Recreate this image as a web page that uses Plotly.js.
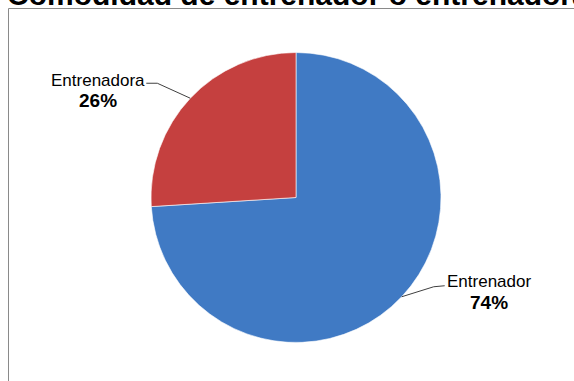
<!DOCTYPE html>
<html>
<head>
<meta charset="utf-8">
<script src="https://cdn.plot.ly/plotly-3.0.1.min.js"></script>
<style>html,body{margin:0;padding:0;background:#fff;}#chart{width:574px;height:381px;}</style>
</head>
<body>
<div id="chart"></div>
<script>
const titleText = "Comodidad de entrenador o entrenadora";
const categories = ["Entrenador", "Entrenadora"];
const values = [74, 26];
const colors = ["#407ac4", "#c5403f"];

const W = 574, H = 381;
// pie geometry (pixels)
const cx = 296, cy = 197.5, R = 145;
const px = x => x / W;
const py = y => 1 - y / H;

const total = values.reduce((a, b) => a + b, 0);
// label layout: offsets from slice mid-point on rim
const labelStyle = [
  {elbow: [32, -10], end: [43, -11], name: [87, -15], pct: [87, 6]},
  {elbow: [-33, -15], end: [-44, -15], name: [-92, -18], pct: [-92, 2]}
];

const annotations = [];
const shapes = [];
let start = 0;
values.forEach((v, i) => {
  const mid = (start + v / 2) / total * 2 * Math.PI; // clockwise from 12 o'clock
  start += v;
  const ex = cx + R * Math.sin(mid), ey = cy - R * Math.cos(mid);
  const s = labelStyle[i];
  shapes.push({
    type: "path", xref: "paper", yref: "paper",
    path: `M ${px(ex)} ${py(ey)} L ${px(ex + s.elbow[0])} ${py(ey + s.elbow[1])} L ${px(ex + s.end[0])} ${py(ey + s.end[1])}`,
    line: {color: "#404040", width: 1}
  });
  annotations.push({
    xref: "paper", yref: "paper", x: px(ex + s.name[0]), y: py(ey + s.name[1]),
    xanchor: "center", yanchor: "middle", showarrow: false,
    text: categories[i], font: {family: "Liberation Sans, Arial, sans-serif", size: 17, color: "#000"}
  });
  annotations.push({
    xref: "paper", yref: "paper", x: px(ex + s.pct[0]), y: py(ey + s.pct[1]),
    xanchor: "center", yanchor: "middle", showarrow: false,
    text: "<b>" + Math.round(v / total * 100) + "%</b>",
    font: {family: "Liberation Sans, Arial, sans-serif", size: 19, color: "#000"}
  });
});

annotations.push({
  xref: "paper", yref: "paper", x: px(5), y: 1, xanchor: "left", yanchor: "middle",
  yshift: 6, showarrow: false, text: "<b>" + titleText + "</b>",
  font: {family: "Liberation Sans, Arial, sans-serif", size: 30, color: "#000"}
});

shapes.push({
  type: "rect", xref: "paper", yref: "paper",
  x0: px(8.5), x1: 1.02, y0: -0.02, y1: py(8.5),
  line: {color: "#8a8a8a", width: 1}, fillcolor: "rgba(0,0,0,0)", layer: "below"
});

const trace = {
  type: "pie",
  labels: categories,
  values: values,
  sort: false,
  direction: "clockwise",
  rotation: 0,
  textinfo: "none",
  hoverinfo: "label+percent",
  marker: {colors: colors, line: {color: "rgba(255,255,255,0.6)", width: 1}},
  domain: {x: [px(cx - R), px(cx + R)], y: [py(cy + R), py(cy - R)]},
  showlegend: false
};

Plotly.newPlot("chart", [trace], {
  width: W, height: H,
  margin: {l: 0, r: 0, t: 0, b: 0},
  paper_bgcolor: "#ffffff",
  showlegend: false,
  annotations: annotations,
  shapes: shapes
}, {displayModeBar: false, staticPlot: true});
</script>
</body>
</html>
